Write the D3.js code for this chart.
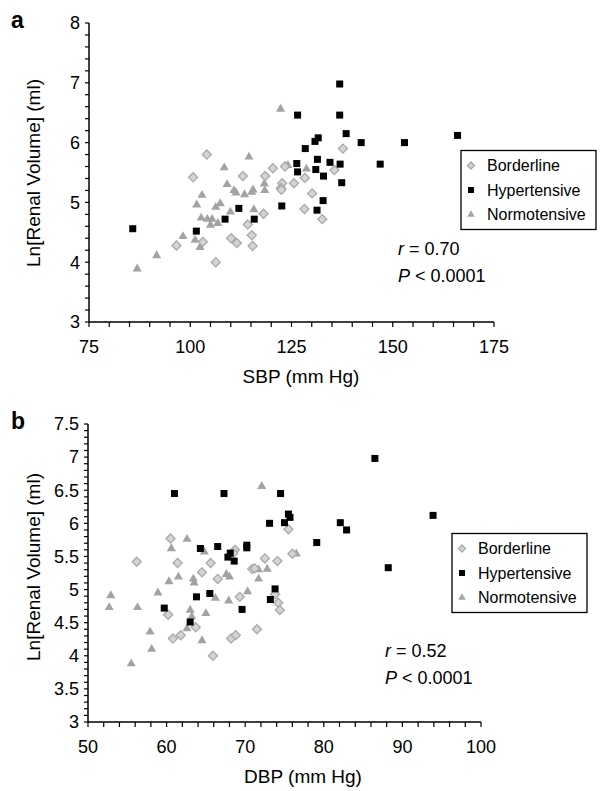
<!DOCTYPE html>
<html>
<head>
<meta charset="utf-8">
<script src="https://cdn.jsdelivr.net/npm/d3@7"></script>
<style>
  body { margin: 0; background: #fff; }
  text { font-family: "Liberation Sans", Arial, Helvetica, sans-serif; }
</style>
</head>
<body>
<div id="chart"></div>
<script>
// panel a : SBP vs Ln renal volume
const sbpBorder = [[96.6,4.28],[100.7,5.42],[103.1,4.34],[104.1,5.80],[106.3,4.00],[110.1,4.40],[111.5,4.32],[113,5.44],[114.2,4.63],[115.2,4.45],[115.4,4.27],[118.1,4.81],[118.5,5.44],[120.4,5.57],[123.4,5.60],[125.6,5.32],[122.7,5.32],[122.4,5.24],[122.5,5.21],[128.3,5.41],[130.1,5.15],[128.2,4.89],[132.6,4.72],[137.7,5.90],[135.6,5.54]]
const sbpHyper = [[85.8,4.56],[101.5,4.52],[108.6,4.72],[112,4.90],[115.8,4.72],[122.6,4.94],[126.5,6.46],[136.9,6.98],[136.9,6.46],[138.5,6.15],[142.2,6.00],[152.9,6.00],[166,6.12],[146.9,5.64],[131.6,6.08],[130.8,6.02],[128.4,5.90],[126.3,5.65],[126.5,5.51],[131.4,5.72],[134.5,5.67],[137,5.64],[131,5.55],[132.9,5.44],[137.4,5.33],[132.8,5.03],[131.3,4.87]]
const sbpNormo = [[86.9,3.89],[91.7,4.11],[98.2,4.43],[101.2,4.37],[102.4,4.25],[101.6,4.96],[102.9,5.12],[102.7,4.74],[104.2,4.72],[105.4,4.72],[105.0,4.62],[106.8,4.65],[106.3,4.92],[107.4,4.98],[108.4,5.58],[109.1,5.30],[109.9,4.84],[110.8,5.20],[111.3,5.16],[113.4,5.13],[114.5,5.76],[115.2,5.17],[115.5,5.21],[115.7,4.88],[118.3,5.31],[118.4,5.20],[122.3,6.56],[124.1,5.62],[128.7,5.56]]

// panel b : DBP vs Ln renal volume
const dbpBorder = [[60.5,5.77],[56.2,5.42],[61.4,5.40],[65.6,5.40],[64.5,5.26],[66.5,5.16],[60.2,4.62],[63.7,4.43],[60.8,4.26],[61.8,4.31],[65.9,4.00],[68.7,5.60],[68.5,5.55],[69.3,4.89],[68.2,4.26],[68.8,4.31],[70.9,5.31],[71.2,5.32],[72.5,5.47],[74.1,5.43],[71.5,4.40],[73.8,4.93],[74.2,4.80],[74.4,4.69],[75.5,5.91],[76.0,5.54]]
const dbpHyper = [[61,6.45],[67.3,6.45],[74.5,6.45],[73.1,6.0],[64.3,5.62],[66.5,5.65],[70.2,5.67],[70.2,5.63],[68.1,5.55],[67.8,5.49],[68.6,5.43],[63.8,4.89],[65.5,4.94],[59.7,4.72],[63.0,4.51],[69.6,4.70],[73.8,5.01],[73.2,4.85],[86.5,6.98],[75.5,6.14],[75.7,6.09],[75,6.01],[82.1,6.01],[82.9,5.90],[79.1,5.71],[93.9,6.12],[88.2,5.33]]
const dbpNormo = [[52.9,4.91],[52.7,4.73],[56.3,4.73],[55.5,3.88],[58.1,4.10],[57.9,4.36],[58.9,4.95],[60.3,5.12],[61.5,5.19],[60.6,5.62],[62.6,5.76],[63.4,5.16],[63.5,5.10],[64.8,5.57],[63.0,4.69],[63.2,4.59],[62.6,4.41],[64.5,4.23],[65.0,4.64],[66.2,4.87],[67.9,4.83],[67.6,5.23],[68.0,5.19],[70.3,4.97],[71.7,5.30],[71.7,5.16],[72.8,5.31],[72.1,6.56],[76.5,5.54]]

const groups = ["Borderline", "Hypertensive", "Normotensive"]
const sbpTicks = [75, 100, 125, 150, 175]
const dbpTicks = [50, 60, 70, 80, 90, 100]
const volTicksA = [3, 4, 5, 6, 7, 8]
const volTicksB = [3, 3.5, 4, 4.5, 5, 5.5, 6, 6.5, 7, 7.5]

const svg = d3.select('#chart').append('svg')
  .attr('width', 608).attr('height', 791)

function marker(g, group, big) {
  if (group === "Borderline") {
    const s = big ? 6.4 : 5
    g.append('rect').attr('x', -s/2).attr('y', -s/2).attr('width', s).attr('height', s)
      .attr('transform', 'rotate(45)')
      .attr('fill', '#d4d4d4').attr('stroke', '#a9a9a9').attr('stroke-width', 1.3)
  } else if (group === "Hypertensive") {
    const s = big ? 7 : 6
    g.append('rect').attr('x', -s/2).attr('y', -s/2).attr('width', s).attr('height', s)
      .attr('fill', '#000')
  } else {
    g.append('path').attr('d', d3.symbol().type(d3.symbolTriangle).size(big ? 36 : 24)())
      .attr('fill', '#a3a3a3')
  }
}

function panel(p) {
  const x = d3.scaleLinear().domain(p.xDom).range([p.left, p.right])
  const y = d3.scaleLinear().domain(p.yDom).range([p.bottom, p.top])

  // axes
  svg.append('line').attr('x1', p.left).attr('x2', p.left).attr('y1', p.top).attr('y2', p.bottom)
    .attr('stroke', '#000').attr('stroke-width', 1.5)
  svg.append('line').attr('x1', p.left).attr('x2', p.right).attr('y1', p.bottom).attr('y2', p.bottom)
    .attr('stroke', '#000').attr('stroke-width', 1.5)

  d3.range(p.xDom[0], p.xDom[1] + 0.001, p.xMinor).forEach(v => {
    svg.append('line').attr('x1', x(v)).attr('x2', x(v)).attr('y1', p.bottom).attr('y2', p.bottom + 5)
      .attr('stroke', '#000').attr('stroke-width', 1.2)
  })
  d3.range(0, Math.round((p.yDom[1] - p.yDom[0]) / p.yMinor) + 1).forEach(i => {
    const v = p.yDom[0] + i * p.yMinor
    svg.append('line').attr('x1', p.left - 4).attr('x2', p.left).attr('y1', y(v)).attr('y2', y(v))
      .attr('stroke', '#000').attr('stroke-width', 1.2)
  })

  svg.append('g').selectAll('text').data(p.xTicks).enter().append('text')
    .attr('x', d => x(d)).attr('y', p.bottom + 31)
    .attr('text-anchor', 'middle').attr('font-size', 18).text(d => d)
  svg.append('g').selectAll('text').data(p.yTicks).enter().append('text')
    .attr('x', p.left - 9).attr('y', d => y(d)).attr('dy', '0.35em')
    .attr('text-anchor', 'end').attr('font-size', 18).text(d => d)

  svg.append('text').attr('x', p.xTitleX).attr('y', p.bottom + 61)
    .attr('text-anchor', 'middle').attr('font-size', 19).text(p.xTitle)
  svg.append('text').attr('transform', `translate(40,${p.yTitleY})rotate(-90)`)
    .attr('text-anchor', 'middle').attr('font-size', 19).text('Ln[Renal Volume] (ml)')

  svg.append('text').attr('x', 11).attr('y', p.top + 5)
    .attr('font-size', 23).attr('font-weight', 'bold').text(p.label)

  // points: normotensive, borderline, hypertensive
  const sets = [["Normotensive", p.normo], ["Borderline", p.border], ["Hypertensive", p.hyper]]
  sets.forEach(([grp, data]) => {
    svg.append('g').selectAll('g').data(data).enter().append('g')
      .attr('transform', d => `translate(${x(d[0])},${y(d[1])})`)
      .each(function() { marker(d3.select(this), grp, true) })
  })

  // legend
  const lg = svg.append('g').attr('transform', `translate(${p.legX},${p.legY})`)
  lg.append('rect').attr('width', p.legW).attr('height', 79)
    .attr('fill', '#fff').attr('stroke', '#000').attr('stroke-width', 1.3)
  groups.forEach((grp, i) => {
    const m = lg.append('g').attr('transform', `translate(10,${15 + i * 24.5})`)
    marker(m, grp, false)
    lg.append('text').attr('x', 26).attr('y', 15 + i * 24.5).attr('dy', '0.36em')
      .attr('font-size', 16).text(grp)
  })

  // stats
  const st = svg.append('text').attr('x', p.statX).attr('y', p.statY).attr('font-size', 18)
  st.append('tspan').attr('font-style', 'italic').text('r')
  st.append('tspan').text(' = ' + p.r)
  const st2 = svg.append('text').attr('x', p.statX).attr('y', p.statY + 27).attr('font-size', 18)
  st2.append('tspan').attr('font-style', 'italic').text('P')
  st2.append('tspan').text(' < 0.0001')
}

panel({
  label: 'a', xDom: [75, 175], yDom: [3, 8], left: 89, right: 494, top: 23, bottom: 322,
  xMinor: 5, yMinor: 0.2, xTicks: sbpTicks, yTicks: volTicksA,
  xTitle: 'SBP (mm Hg)', xTitleX: 301, yTitleY: 173,
  border: sbpBorder, hyper: sbpHyper, normo: sbpNormo,
  legX: 461, legY: 150.5, legW: 135, statX: 398, statY: 255, r: '0.70'
})

panel({
  label: 'b', xDom: [50, 100], yDom: [3, 7.5], left: 88, right: 481, top: 424, bottom: 722,
  xMinor: 2, yMinor: 0.1, xTicks: dbpTicks, yTicks: volTicksB,
  xTitle: 'DBP (mm Hg)', xTitleX: 303, yTitleY: 567,
  border: dbpBorder, hyper: dbpHyper, normo: dbpNormo,
  legX: 452, legY: 533.5, legW: 135, statX: 385, statY: 657, r: '0.52'
})
</script>
</body>
</html>
